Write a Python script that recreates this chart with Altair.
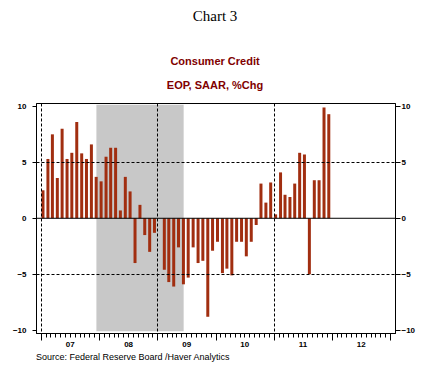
import altair as alt
import pandas as pd

# Monthly % change, Jan 2007 .. Dec 2011
values = [
    2.5, 5.3, 7.5, 3.6, 8.0, 5.3, 5.85, 8.6, 5.8, 5.3, 6.6, 3.7,      # 2007
    3.3, 5.5, 6.3, 6.3, 0.7, 3.7, 2.4, -4.0, 1.2, -1.5, -3.0, -1.3,   # 2008
    0.0, -4.6, -5.7, -6.1, -2.6, -5.9, -5.3, -2.6, -4.0, -3.8, -8.8, -2.9,  # 2009
    -2.1, -4.9, -4.5, -5.1, -2.1, -2.1, -3.4, -2.1, -0.6, 3.1, 1.4, 3.2,   # 2010
    0.35, 4.1, 2.1, 1.9, 3.1, 5.85, 5.7, -5.0, 3.4, 3.4, 9.9, 9.3,    # 2011
]
dates = pd.date_range("2007-01-01", periods=len(values), freq="MS").strftime("%Y-%m-%d").tolist()

recession_start = ["2007-12-15"]
recession_end = ["2009-06-15"]

y_ticks = [-10, -5, 0, 5, 10]
title_text = "Chart 3"
subtitle_1 = "Consumer Credit"
subtitle_2 = "EOP, SAAR, %Chg"
source_text = "Source:  Federal Reserve Board /Haver Analytics"

BAR = "#A12E10"
DARKRED = "#7F0000"
FONT = "Liberation Sans"

df = pd.DataFrame({"date": dates, "value": values})
rec = pd.DataFrame({"start": recession_start, "end": recession_end})

def dt(y, m=1):
    return alt.DateTime(year=y, month=m, date=1, utc=True)

xscale = alt.Scale(type="utc", domain=[dt(2007), dt(2013)])
yscale = alt.Scale(domain=[-10.25, 10.3], nice=False, zero=False)

month_ticks = [dt(y, m) for y in range(2007, 2013) for m in range(1, 13)] + [dt(2013)]

xaxis = alt.Axis(
    values=month_ticks,
    title=None,
    labelExpr="utcmonth(datum.value)==6 ? utcFormat(datum.value, '%y') : ''",
    labelOverlap=False,
    labelFont=FONT, labelFontSize=8, labelFontWeight="bold", labelColor="black",
    labelPadding=3,
    tickColor="black",
    tickSize={"condition": {"test": "utcmonth(datum.value)==0", "value": 7}, "value": 4},
    domainColor="black",
    grid=True, gridColor="black", gridDash=[3, 2],
    gridOpacity={"condition": {"test": "utcmonth(datum.value)==0 && utcyear(datum.value)%2==1 && utcyear(datum.value)<2013", "value": 1}, "value": 0},
    zindex=1,
)

yleft = alt.Axis(
    values=y_ticks, title=None, orient="left",
    labelFont=FONT, labelFontSize=8, labelFontWeight="bold", labelColor="black",
    labelPadding=6, tickSize=4, tickColor="black", domainColor="black",
    grid=True, gridColor="black", gridDash=[3, 2],
    gridOpacity={"condition": {"test": "abs(datum.value)==5", "value": 1}, "value": 0},
    zindex=1,
)
yright = alt.Axis(
    values=y_ticks, title=None, orient="right",
    labelFont=FONT, labelFontSize=8, labelFontWeight="bold", labelColor="black",
    labelPadding=1, tickSize=5, tickColor="black", domainColor="black",
    grid=False, zindex=1,
)

shade = alt.Chart(rec).mark_rect(color="#C8C8C8").encode(
    x=alt.X("start:T", scale=xscale, axis=None),
    x2="end:T",
    y=alt.YDatum(10.15, type="quantitative", scale=yscale, axis=None),
    y2=alt.Y2Datum(-10.1),
)

bars = alt.Chart(df).mark_bar(color=BAR, size=3, xOffset=2).encode(
    x=alt.X("date:T", scale=xscale, axis=xaxis),
    y=alt.Y("value:Q", scale=yscale, axis=yleft),
)

zero = alt.Chart(pd.DataFrame({"z": [0]})).mark_rule(color="black", strokeWidth=1).encode(
    y=alt.YDatum(0, type="quantitative", scale=yscale, axis=yright),
)

def label(txt, x, y, **kw):
    return alt.Chart(pd.DataFrame({"t": [txt]})).mark_text(**kw).encode(
        x=alt.value(x), y=alt.value(y), text="t:N"
    )

t1 = label(title_text, 179, -94, font="Liberation Serif", fontSize=15, color="black", align="center", baseline="top")
t2 = label(subtitle_1, 179, -41, font=FONT, fontSize=11, fontWeight="bold", color=DARKRED, align="center", baseline="middle")
t3 = label(subtitle_2, 179, -17, font=FONT, fontSize=11, fontWeight="bold", color=DARKRED, align="center", baseline="middle")
src = label(source_text, 0, 254, font=FONT, fontSize=9, color="black", align="left", baseline="middle")

chart = alt.layer(shade, bars, zero, t1, t2, t3, src).resolve_scale(
    y="shared", x="shared"
).resolve_axis(y="independent", x="independent").properties(
    width=359, height=230,
    autosize="none",
    padding={"left": 28, "top": 95, "right": 21, "bottom": 32},
    background="white",
).configure_view(stroke="black", strokeWidth=1)

chart.save("out.html", embed_options={"renderer": "svg", "actions": False})
